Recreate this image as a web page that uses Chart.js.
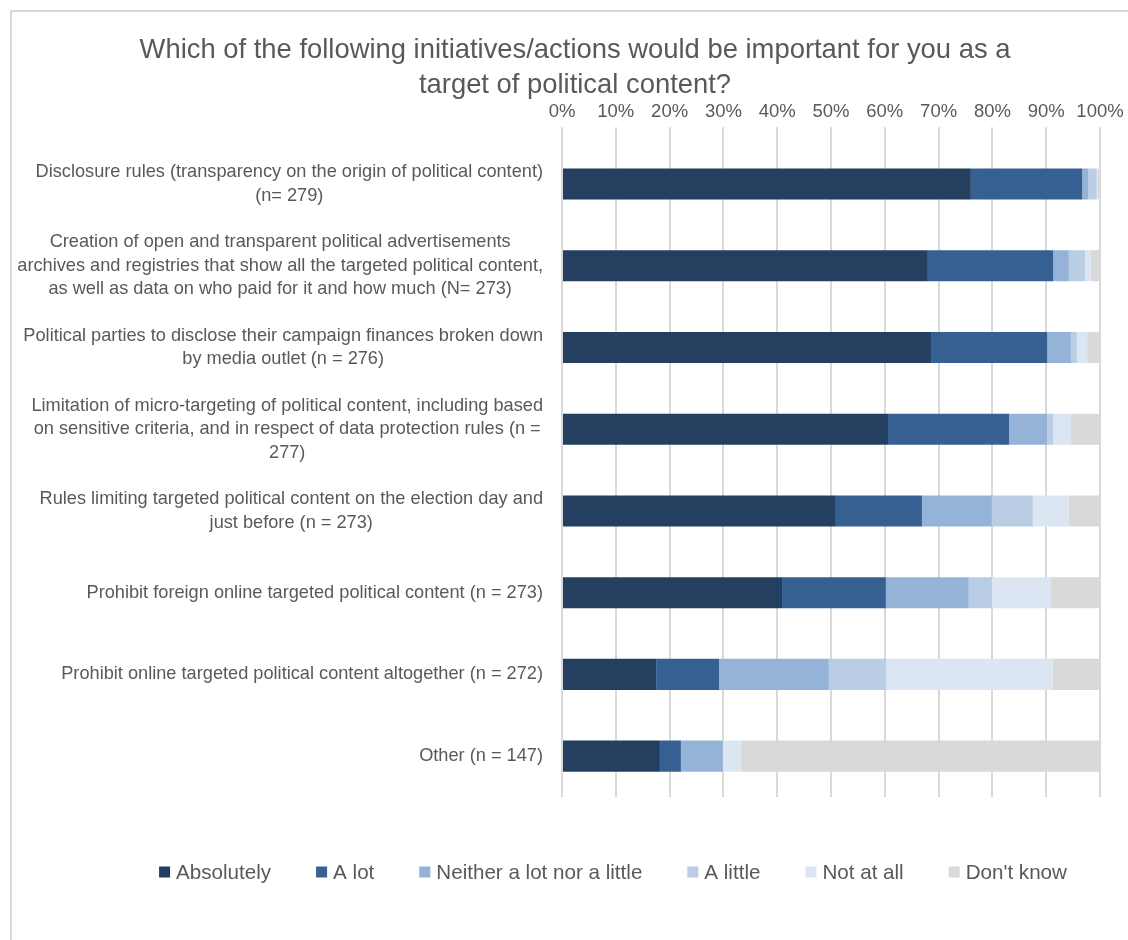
<!DOCTYPE html>
<html>
<head>
<meta charset="utf-8">
<script src="https://cdn.jsdelivr.net/npm/chart.js@4"></script>
<style>
  html, body { margin: 0; padding: 0; background: #fff; }
  #frame { position: absolute; left: 10px; top: 10px; width: 1200px; height: 1000px; border: 2px solid #d9d9d9; box-sizing: border-box; }
  #wrap { position: absolute; left: 0; top: 0; width: 1128px; height: 940px; }
</style>
</head>
<body>
<div id="frame"></div>
<div id="wrap"><canvas id="chart" width="1128" height="940"></canvas></div>
<script>
const categories = [
  ['Disclosure rules (transparency on the origin of political content)', '(n= 279)'],
  ['Creation of open and transparent political advertisements', 'archives and registries that show all the targeted political content,', 'as well as data on who paid for it and how much (N= 273)'],
  ['Political parties to disclose their campaign finances broken down', 'by media outlet (n = 276)'],
  ['Limitation of micro-targeting of political content, including based', 'on sensitive criteria, and in respect of data protection rules (n =', '277)'],
  ['Rules limiting targeted political content on the election day and', 'just before (n = 273)'],
  ['Prohibit foreign online targeted political content (n = 273)'],
  ['Prohibit online targeted political content altogether (n = 272)'],
  ['Other (n = 147)']
];

const seriesNames = ['Absolutely', 'A lot', 'Neither a lot nor a little', 'A little', 'Not at all', "Don't know"];
const absolutely = [76.0, 68.0, 68.6, 60.6, 50.9, 40.9, 17.5, 18.2];
const aLot       = [20.7, 23.3, 21.6, 22.5, 16.0, 19.3, 11.7, 3.9];
const neither    = [1.1, 2.9, 4.4, 7.1, 13.0, 15.4, 20.4, 7.8];
const aLittle    = [1.6, 3.0, 1.1, 1.1, 7.6, 4.3, 10.7, 0];
const notAtAll   = [0.2, 1.1, 1.9, 3.3, 6.7, 11.0, 30.9, 3.4];
const dontKnow   = [0.4, 1.7, 2.4, 5.4, 5.8, 9.1, 8.8, 66.7];
const xTicks = [0, 10, 20, 30, 40, 50, 60, 70, 80, 90, 100];

const colors = ['#243f60', '#366092', '#95b3d7', '#b9cde5', '#dce6f2', '#d9d9d9'];
const FONT = "'Liberation Sans', Arial, sans-serif";
const TEXT = '#595959';

// category labels: block right-aligned to the axis, lines centred inside the block
const catLabels = {
  id: 'catLabels',
  afterDraw(chart) {
    const ctx = chart.ctx;
    const y = chart.scales.y;
    const right = chart.chartArea.left - 19;
    ctx.save();
    ctx.font = '18.2px ' + FONT;
    ctx.fillStyle = TEXT;
    ctx.textAlign = 'center';
    ctx.textBaseline = 'middle';
    categories.forEach(function (lines, i) {
      const w = Math.max.apply(null, lines.map(l => ctx.measureText(l).width));
      const yc = y.getPixelForValue(i);
      lines.forEach(function (l, k) {
        ctx.fillText(l, right - w / 2, yc + (k - (lines.length - 1) / 2) * 23.5);
      });
    });
    ctx.restore();
  }
};

// legend row under the plot
const bottomLegend = {
  id: 'bottomLegend',
  afterDraw(chart) {
    const ctx = chart.ctx;
    const box = 11, gapText = 6, gapItem = 45;
    ctx.save();
    ctx.font = '20.6px ' + FONT;
    ctx.textBaseline = 'middle';
    const items = chart.data.datasets.map(d => ({
      text: d.label, color: d.backgroundColor,
      w: box + gapText + ctx.measureText(d.label).width
    }));
    const total = items.reduce((s, it) => s + it.w, 0) + gapItem * (items.length - 1);
    let x = 613 - total / 2;
    const yc = 872;
    items.forEach(function (it) {
      ctx.fillStyle = it.color;
      ctx.fillRect(x, yc - box / 2, box, box);
      ctx.fillStyle = TEXT;
      ctx.fillText(it.text, x + box + gapText, yc + 1);
      x += it.w + gapItem;
    });
    ctx.restore();
  }
};

const seriesData = [absolutely, aLot, neither, aLittle, notAtAll, dontKnow];

new Chart(document.getElementById('chart').getContext('2d'), {
  type: 'bar',
  data: {
    labels: categories,
    datasets: seriesNames.map((name, i) => ({
      label: name,
      data: seriesData[i],
      backgroundColor: colors[i],
      borderWidth: 0,
      categoryPercentage: 1,
      barPercentage: 0.38
    }))
  },
  options: {
    responsive: false,
    animation: false,
    indexAxis: 'y',
    layout: { padding: { top: 23, right: 28, bottom: 143, left: 50 } },
    plugins: {
      legend: { display: false },
      tooltip: { enabled: false },
      title: {
        display: true,
        text: ['Which of the following initiatives/actions would be important for you as a', 'target of political content?'],
        color: TEXT,
        font: { family: FONT, size: 27.4, weight: 'normal', lineHeight: 1.28 },
        padding: { top: 10, bottom: 0 }
      }
    },
    scales: {
      x: {
        position: 'top',
        stacked: true,
        min: 0,
        max: 100,
        afterBuildTicks: function (s) { s.ticks = xTicks.map(v => ({ value: v })); },
        ticks: { callback: v => v + '%', color: TEXT, font: { family: FONT, size: 18.5 }, padding: 4, maxRotation: 0 },
        grid: { color: '#d9d9d9', lineWidth: 2, tickLength: 16 },
        border: { display: false },
        afterFit: function (s) { s.height = 40; }
      },
      y: {
        stacked: true,
        ticks: { display: false },
        grid: { display: false },
        border: { display: false },
        afterFit: function (s) { s.width = 512; }
      }
    }
  },
  plugins: [catLabels, bottomLegend]
});
</script>
</body>
</html>
